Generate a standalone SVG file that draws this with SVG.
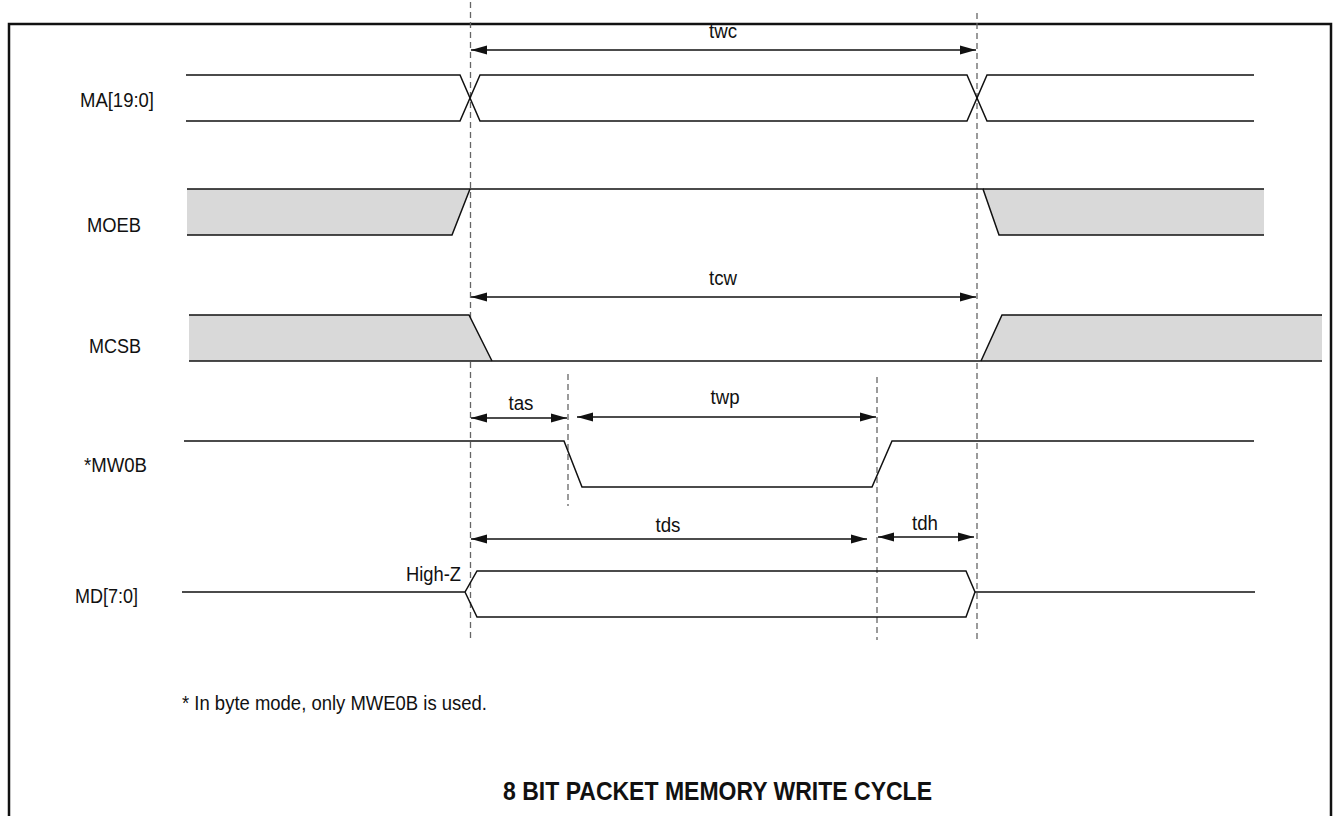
<svg xmlns="http://www.w3.org/2000/svg" width="1336" height="816" viewBox="0 0 1336 816">
<style>
  .lbl { font-family: "Liberation Sans", Arial, sans-serif; font-size: 20.5px; fill: #111; }
  .mid { text-anchor: middle; }
  .ttl { font-family: "Liberation Sans", Arial, sans-serif; font-size: 25px; font-weight: bold; fill: #111; text-anchor: middle; }
  .sig { fill: none; stroke: #111; stroke-width: 1.5; stroke-linejoin: miter; }
  .gray { fill: #d9d9d9; stroke: none; }
  .dash { stroke: #666; stroke-width: 1.3; stroke-dasharray: 6 4; fill: none; }
  .dim { stroke: #111; stroke-width: 1.5; fill: none; marker-start: url(#ah); marker-end: url(#ah); }
</style>
<defs>
  <marker id="ah" markerUnits="userSpaceOnUse" markerWidth="17" markerHeight="10" viewBox="0 0 17 10" refX="16" refY="5" orient="auto-start-reverse">
    <path d="M0,0.5 L16,5 L0,9.5 z" fill="#111"/>
  </marker>
</defs>
<rect width="1336" height="816" fill="#fff"/>
<path d="M9,830 L9,24 L1331,24 L1331,830" fill="none" stroke="#111" stroke-width="2.5"/>

<g id="guides">
  <line class="dash" x1="470.5" y1="2" x2="470.5" y2="641"/>
  <line class="dash" x1="977" y1="13" x2="977" y2="640"/>
  <line class="dash" x1="568" y1="374" x2="568" y2="506"/>
  <line class="dash" x1="877" y1="377" x2="877" y2="640"/>
</g>

<g id="sig-MA">
  <text class="lbl" x="80" y="107" textLength="74" lengthAdjust="spacingAndGlyphs">MA[19:0]</text>
  <path class="sig" d="M186,75 L460,75 L480,121 L967,121 L987,75 L1254,75"/>
  <path class="sig" d="M186,121 L460,121 L480,75 L967,75 L987,121 L1254,121"/>
</g>

<g id="sig-MOEB">
  <text class="lbl" x="87" y="232" textLength="54" lengthAdjust="spacingAndGlyphs">MOEB</text>
  <polygon class="gray" points="187,189 470,189 452,235 187,235"/>
  <polygon class="gray" points="983,189 1264,189 1264,235 999,235"/>
  <path class="sig" d="M187,189 L983,189 L999,235 L1264,235"/>
  <path class="sig" d="M187,235 L452,235 L470,189"/>
  <path class="sig" d="M983,189 L1264,189"/>
</g>

<g id="sig-MCSB">
  <text class="lbl" x="89" y="353" textLength="52" lengthAdjust="spacingAndGlyphs">MCSB</text>
  <polygon class="gray" points="189,315 469,315 492,361 189,361"/>
  <polygon class="gray" points="981,361 1002,315 1322,315 1322,361"/>
  <path class="sig" d="M189,315 L469,315 L492,361"/>
  <path class="sig" d="M189,361 L1322,361"/>
  <path class="sig" d="M981,361 L1002,315 L1322,315"/>
</g>

<g id="sig-MW0B">
  <text class="lbl" x="84" y="472" textLength="63" lengthAdjust="spacingAndGlyphs">*MW0B</text>
  <path class="sig" d="M184,441 L564,441 L582,487 L872,487 L892,441 L1254,441"/>
</g>

<g id="sig-MD">
  <text class="lbl" x="75" y="603" textLength="63" lengthAdjust="spacingAndGlyphs">MD[7:0]</text>
  <text class="lbl" x="406" y="581" textLength="55" lengthAdjust="spacingAndGlyphs">High-Z</text>
  <path class="sig" d="M182,592 L465,592 L477,571 L966,571 L975,592 L966,617 L477,617 L465,592"/>
  <path class="sig" d="M975,592 L1255,592"/>
</g>

<g id="connectors">
  <line class="dim" x1="471" y1="50" x2="976" y2="50"/>
  <line class="dim" x1="471" y1="297" x2="976" y2="297"/>
  <line class="dim" x1="471" y1="418" x2="567" y2="418"/>
  <line class="dim" x1="577" y1="417" x2="876" y2="417"/>
  <line class="dim" x1="471" y1="539" x2="867" y2="539"/>
  <line class="dim" x1="878" y1="537" x2="974" y2="537"/>
</g>

<g id="dim-labels">
  <text class="lbl mid" x="723" y="38" textLength="28" lengthAdjust="spacingAndGlyphs">twc</text>
  <text class="lbl mid" x="723" y="285" textLength="28" lengthAdjust="spacingAndGlyphs">tcw</text>
  <text class="lbl mid" x="521" y="410" textLength="25" lengthAdjust="spacingAndGlyphs">tas</text>
  <text class="lbl mid" x="725" y="404" textLength="29" lengthAdjust="spacingAndGlyphs">twp</text>
  <text class="lbl mid" x="668" y="532" textLength="25" lengthAdjust="spacingAndGlyphs">tds</text>
  <text class="lbl mid" x="925" y="530" textLength="26" lengthAdjust="spacingAndGlyphs">tdh</text>
</g>

<g id="notes">
  <text class="lbl" x="182" y="710" textLength="305" lengthAdjust="spacingAndGlyphs">* In byte mode, only MWE0B is used.</text>
  <text class="ttl" x="717.5" y="800" textLength="429" lengthAdjust="spacingAndGlyphs">8 BIT PACKET MEMORY WRITE CYCLE</text>
</g>
</svg>
